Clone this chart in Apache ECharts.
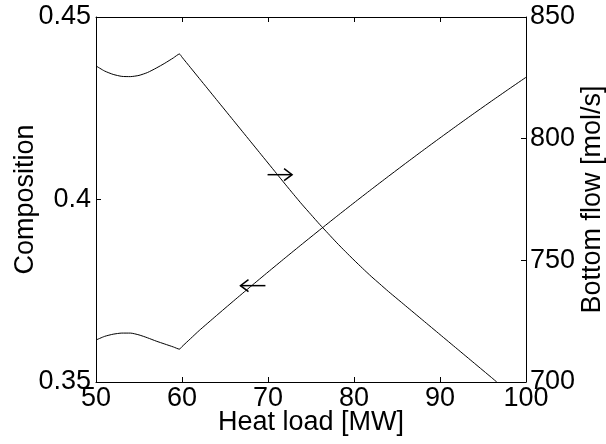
<!DOCTYPE html>
<html>
<head>
<meta charset="utf-8">
<script src="https://cdn.jsdelivr.net/npm/echarts@6/dist/echarts.min.js"></script>
<style>
  html, body { margin: 0; padding: 0; background: #fff; }
  #chart { width: 606px; height: 444px; }
</style>
</head>
<body>
<div id="chart"></div>
<script>
// Heat load [MW] sample points and bottom flow [mol/s] (right axis)
const flowHeatLoad = [50, 51, 52, 53, 54, 55, 56, 57, 58, 59, 59.7, 60, 61, 62, 63, 64, 65, 66, 67, 68, 69, 70, 71, 72, 73, 74, 75, 76, 77, 78, 79, 80, 81, 82, 83, 84, 85, 86, 88, 90, 92, 94, 96, 96.6];
const bottomFlow   = [829.9, 827.8, 826.4, 825.6, 825.5, 826.0, 827.2, 829.0, 831.0, 833.2, 834.8, 833.5, 829.15, 824.8, 820.45, 816.1, 811.75, 807.4, 803.05, 798.7, 794.35, 790.0, 785.65, 781.3, 777.0, 772.8, 768.8, 764.8, 761.0, 757.2, 753.6, 750.1, 746.7, 743.4, 740.3, 737.2, 734.25, 731.3, 725.4, 719.5, 713.6, 707.7, 701.8, 700.0];

// Heat load [MW] sample points and composition (left axis)
const compHeatLoad = [50, 51, 52, 53, 54, 55, 56, 57, 58, 59, 59.7, 60, 61, 62, 64, 66, 68, 70, 72, 74, 76, 78, 80, 82, 84, 86, 88, 90, 92, 94, 96, 98, 100];
const composition  = [0.3615, 0.3625, 0.3631, 0.3634, 0.3634, 0.3629, 0.3621, 0.3612, 0.3604, 0.3596, 0.3590, 0.3597, 0.3619, 0.3641, 0.36818, 0.37221, 0.37619, 0.38012, 0.38401, 0.38785, 0.39164, 0.39539, 0.39909, 0.40274, 0.40634, 0.4099, 0.41341, 0.41687, 0.42029, 0.42366, 0.42698, 0.43025, 0.43348];

// Axis ranges and tick spacing: [min, max, interval]
const xRange = [50, 100, 10];
const compRange = [0.35, 0.45, 0.05];
const flowRange = [700, 850, 50];

// Arrows telling which axis each curve belongs to: [xStart, xEnd, y]
const flowArrow = [69.95, 72.8, 785.2];     // points right, toward the bottom-flow axis
const compArrow = [66.8, 69.7, 0.3764];     // points left, toward the composition axis

const FONT = 'Liberation Sans, Arial, Helvetica, sans-serif';
const TXT = { color: '#000', fontFamily: FONT, fontSize: 27 };

function zip(xs, ys) { return xs.map((x, i) => [x, ys[i]]); }

function arrowRenderer(pointRight) {
  return function (params, api) {
    const a = api.coord([api.value(0), api.value(2)]);
    const b = api.coord([api.value(1), api.value(2)]);
    const tip = pointRight ? b : a;
    const back = pointRight ? -8 : 8;
    return {
      type: 'group',
      children: [
        { type: 'line', shape: { x1: a[0], y1: a[1], x2: b[0], y2: b[1] },
          style: { stroke: '#000', lineWidth: 1.5 } },
        { type: 'polyline', shape: { points: [[tip[0] + back, tip[1] - 6], tip, [tip[0] + back, tip[1] + 6]] },
          style: { stroke: '#000', lineWidth: 1.5, fill: null } }
      ]
    };
  };
}

const axisLine = { show: true, lineStyle: { color: '#000', width: 1 } };
const tickIn = { show: true, inside: true, length: 5, lineStyle: { color: '#000', width: 1 } };

const chart = echarts.init(document.getElementById('chart'), null, { renderer: 'canvas' });
chart.setOption({
  animation: false,
  backgroundColor: '#fff',
  grid: { left: 96, right: 80, top: 17, bottom: 62, containLabel: false, outerBoundsMode: 'none' },
  xAxis: [
    {
      type: 'value', min: xRange[0], max: xRange[1], interval: xRange[2],
      name: 'Heat load [MW]', nameLocation: 'middle', nameGap: 27, nameMoveOverlap: false,
      nameTextStyle: TXT,
      axisLine: axisLine, axisTick: tickIn,
      axisLabel: Object.assign({ margin: 3 }, TXT),
      splitLine: { show: false }
    },
    {
      type: 'value', position: 'top', min: xRange[0], max: xRange[1], interval: xRange[2],
      axisLine: axisLine, axisTick: tickIn, axisLabel: { show: false }, splitLine: { show: false }
    }
  ],
  yAxis: [
    {
      type: 'value', position: 'left', min: compRange[0], max: compRange[1], interval: compRange[2],
      name: 'Composition', nameLocation: 'middle', nameGap: 57, nameRotate: 90, nameMoveOverlap: false,
      nameTextStyle: TXT,
      axisLine: axisLine, axisTick: tickIn,
      axisLabel: Object.assign({ margin: 5 }, TXT),
      splitLine: { show: false }
    },
    {
      type: 'value', position: 'right', min: flowRange[0], max: flowRange[1], interval: flowRange[2],
      name: 'Bottom flow [mol/s]', nameLocation: 'middle', nameGap: 53, nameRotate: 90, nameMoveOverlap: false,
      nameTextStyle: TXT,
      axisLine: axisLine, axisTick: tickIn,
      axisLabel: Object.assign({ margin: 4 }, TXT),
      splitLine: { show: false }
    }
  ],
  series: [
    {
      name: 'Bottom flow', type: 'line', xAxisIndex: 0, yAxisIndex: 1,
      data: zip(flowHeatLoad, bottomFlow), showSymbol: false, clip: true, smooth: 0.2,
      lineStyle: { color: '#000', width: 1 }
    },
    {
      name: 'Composition', type: 'line', xAxisIndex: 0, yAxisIndex: 0,
      data: zip(compHeatLoad, composition), showSymbol: false, clip: true, smooth: 0.2,
      lineStyle: { color: '#000', width: 1 }
    },
    {
      type: 'custom', xAxisIndex: 0, yAxisIndex: 1, data: [flowArrow],
      renderItem: arrowRenderer(true)
    },
    {
      type: 'custom', xAxisIndex: 0, yAxisIndex: 0, data: [compArrow],
      renderItem: arrowRenderer(false)
    }
  ]
});
</script>
</body>
</html>
